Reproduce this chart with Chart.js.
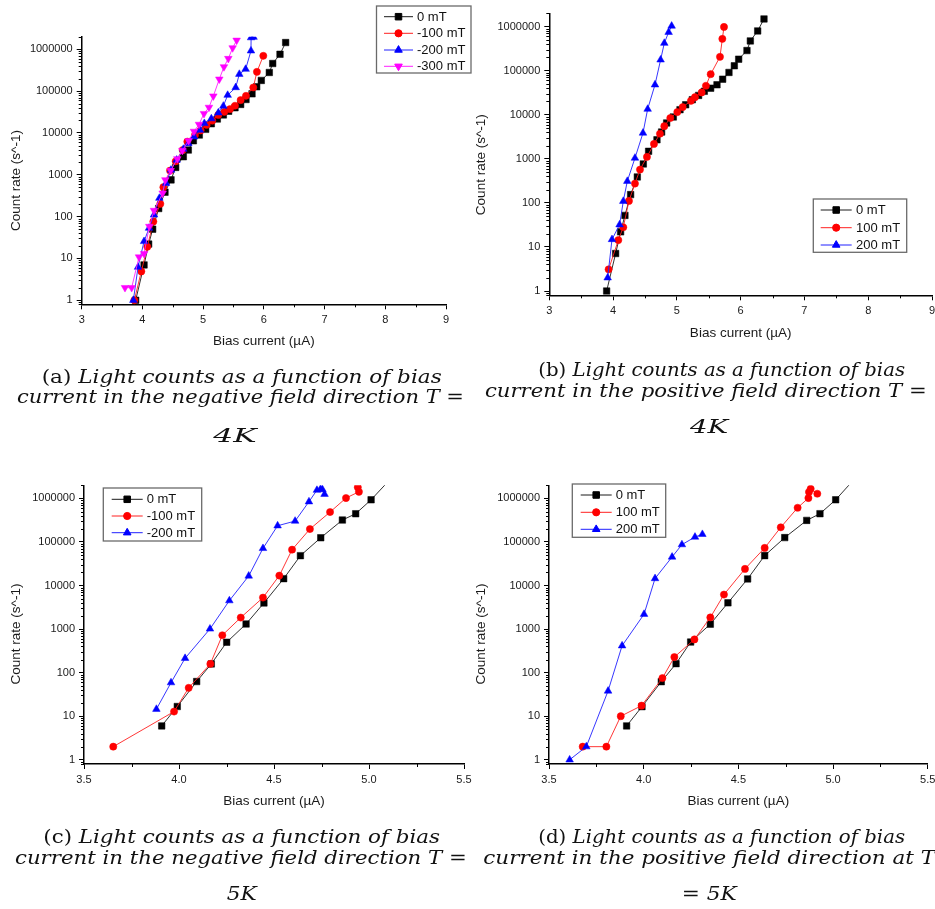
<!DOCTYPE html>
<html><head><meta charset="utf-8">
<script src="https://cdn.jsdelivr.net/npm/chart.js@4.4.0/dist/chart.umd.min.js"></script>
<style>
html,body{margin:0;padding:0;background:#fff;}
body{width:935px;height:909px;position:relative;overflow:hidden;}
canvas{position:absolute;}
svg.cap{position:absolute;left:0;top:0;}
svg.cap text{font-family:"DejaVu Serif",serif;font-style:italic;font-size:18px;fill:#111;}
svg.cap tspan.up{font-style:normal;}
</style></head><body>
<canvas id="cA" width="476" height="352" style="left:0;top:0"></canvas>
<canvas id="cB" width="470" height="352" style="left:470px;top:0"></canvas>
<canvas id="cC" width="476" height="360" style="left:0;top:455px"></canvas>
<canvas id="cD" width="470" height="360" style="left:470px;top:455px"></canvas>
<svg class="cap" width="935" height="909">
  <text x="41.7" y="383.3" textLength="400" lengthAdjust="spacingAndGlyphs"><tspan class="up">(a) </tspan>Light counts as a function of bias</text>
  <text x="17" y="403.3" textLength="447" lengthAdjust="spacingAndGlyphs">current in the negative field direction T =</text>
  <text x="213.3" y="441.7" textLength="43.4" lengthAdjust="spacingAndGlyphs">4K</text>
  <text x="538.3" y="376" textLength="366.7" lengthAdjust="spacingAndGlyphs"><tspan class="up">(b) </tspan>Light counts as a function of bias</text>
  <text x="485" y="396.7" textLength="441.7" lengthAdjust="spacingAndGlyphs">current in the positive field direction T =</text>
  <text x="690" y="433.3" textLength="38.3" lengthAdjust="spacingAndGlyphs">4K</text>
  <text x="43.3" y="843.3" textLength="396.7" lengthAdjust="spacingAndGlyphs"><tspan class="up">(c) </tspan>Light counts as a function of bias</text>
  <text x="15" y="864.3" textLength="451.7" lengthAdjust="spacingAndGlyphs">current in the negative field direction T =</text>
  <text x="226.7" y="900" textLength="30" lengthAdjust="spacingAndGlyphs">5K</text>
  <text x="538.3" y="843.3" textLength="366.7" lengthAdjust="spacingAndGlyphs"><tspan class="up">(d) </tspan>Light counts as a function of bias</text>
  <text x="483.3" y="864.3" textLength="451.7" lengthAdjust="spacingAndGlyphs">current in the positive field direction at T</text>
  <text x="681.7" y="900" textLength="55" lengthAdjust="spacingAndGlyphs">= 5K</text>
</svg>
<script>
// ---------------- DATA ----------------
const xTicks4K = [3, 4, 5, 6, 7, 8, 9];
const xTicks5K = [3.5, 4.0, 4.5, 5.0, 5.5];
const yTicks = [1, 10, 100, 1000, 10000, 100000, 1000000];

// (a) negative field, T = 4K
const a0mT_x = [3.889, 4.027, 4.103, 4.169, 4.268, 4.372, 4.471, 4.548, 4.674, 4.756, 4.839, 4.937, 5.042, 5.135, 5.234, 5.333, 5.42, 5.525, 5.618, 5.706, 5.805, 5.882, 5.958, 6.09, 6.146, 6.266, 6.359];
const a0mT_y = [1, 7, 22, 50, 156, 383, 755, 1500, 2700, 3900, 6500, 8900, 12200, 16600, 21500, 27000, 33000, 40000, 48000, 63000, 86000, 127000, 180000, 279000, 457000, 760000, 1450000];
const aM100_x = [3.867, 3.982, 4.081, 4.18, 4.295, 4.345, 4.455, 4.548, 4.663, 4.74, 4.866, 4.959, 5.058, 5.151, 5.25, 5.349, 5.442, 5.525, 5.618, 5.706, 5.826, 5.886, 5.991];
const aM100_y = [1, 4.9, 19, 76, 202, 505, 1260, 2100, 3900, 6200, 8900, 11500, 15500, 19600, 27000, 32000, 37000, 44700, 61000, 77000, 122000, 289000, 697000];
const aM200_x = [3.851, 3.928, 4.027, 4.109, 4.191, 4.279, 4.389, 4.471, 4.564, 4.674, 4.756, 4.85, 4.948, 5.02, 5.135, 5.25, 5.333, 5.404, 5.536, 5.596, 5.7, 5.788, 5.79, 5.83];
const aM200_y = [1, 6.2, 25.5, 53, 110, 276, 628, 1300, 2260, 4100, 5600, 8100, 11700, 17000, 22000, 30400, 44000, 80000, 122000, 254000, 335000, 920000, 1900000, 1950000];
const aM300_x = [3.713, 3.823, 3.944, 4.027, 4.114, 4.191, 4.334, 4.378, 4.465, 4.575, 4.658, 4.762, 4.85, 4.932, 5.014, 5.096, 5.168, 5.266, 5.343, 5.415, 5.486, 5.552];
const aM300_y = [2, 2, 10.8, 13, 58, 140, 363, 755, 1260, 2400, 3800, 6500, 10900, 16000, 29000, 40800, 76000, 193000, 380000, 600000, 1080000, 1640000];

// (b) positive field, T = 4K
const b0mT_x = [3.899, 4.04, 4.118, 4.186, 4.275, 4.38, 4.474, 4.557, 4.688, 4.761, 4.84, 4.944, 5.049, 5.138, 5.242, 5.341, 5.43, 5.53, 5.629, 5.718, 5.817, 5.901, 5.969, 6.099, 6.152, 6.267, 6.366];
const b0mT_y = [1, 7.1, 22, 52, 154, 388, 764, 1480, 2700, 4050, 6500, 8900, 13000, 16800, 21900, 27400, 34000, 40000, 47800, 64000, 91000, 129000, 182000, 286000, 473000, 797000, 1490000];
const bP100_x = [3.93, 4.082, 4.16, 4.249, 4.343, 4.422, 4.531, 4.641, 4.735, 4.803, 4.897, 5.007, 5.091, 5.221, 5.284, 5.389, 5.456, 5.53, 5.676, 5.713, 5.739];
const bP100_y = [3.1, 14.3, 28, 111, 274, 569, 1100, 2170, 3700, 5500, 8400, 11500, 14900, 20700, 25000, 32000, 45400, 83000, 206000, 526000, 980000];
const bP200_x = [3.915, 3.983, 4.102, 4.16, 4.223, 4.343, 4.469, 4.542, 4.657, 4.745, 4.803, 4.871, 4.918];
const bP200_y = [2, 14.8, 32, 109, 310, 1040, 3850, 13400, 47800, 176000, 420000, 744000, 1030000];

// (c) negative field, T = 5K
const c0mT_x = [3.909, 3.991, 4.093, 4.17, 4.251, 4.353, 4.447, 4.551, 4.639, 4.746, 4.86, 4.93, 5.011, 5.11];
const c0mT_y = [6, 16.7, 62.5, 159, 499, 1310, 3980, 14400, 48500, 125000, 319000, 445000, 930000, 2700000];
const cM100_x = [3.654, 3.974, 4.051, 4.165, 4.228, 4.325, 4.442, 4.528, 4.595, 4.689, 4.795, 4.879, 4.947, 4.941];
const cM100_y = [2, 12.8, 44.8, 159, 722, 1840, 5280, 16900, 66500, 198000, 486000, 1020000, 1420000, 1800000];
const cM200_x = [3.881, 3.958, 4.032, 4.163, 4.265, 4.367, 4.442, 4.519, 4.611, 4.684, 4.726, 4.745, 4.755, 4.766];
const cM200_y = [14.5, 59, 214, 1010, 4500, 16600, 71400, 236000, 302000, 840000, 1550000, 1650000, 1600000, 1250000];

// (d) positive field, T = 5K
const d0mT_x = [3.91, 3.991, 4.093, 4.171, 4.248, 4.352, 4.445, 4.549, 4.639, 4.745, 4.861, 4.931, 5.014, 5.11];
const d0mT_y = [6, 16.6, 62, 161, 504, 1300, 4000, 14200, 48600, 126000, 313000, 446000, 930000, 2700000];
const dP100_x = [3.678, 3.803, 3.879, 3.989, 4.099, 4.162, 4.268, 4.352, 4.424, 4.535, 4.639, 4.724, 4.813, 4.87, 4.873, 4.882, 4.917];
const dP100_y = [2, 2, 10, 17.5, 75, 228, 580, 1850, 6200, 24100, 73000, 217000, 610000, 1020000, 1400000, 1660000, 1280000];
const dP200_x = [3.609, 3.697, 3.812, 3.886, 4.002, 4.06, 4.15, 4.202, 4.271, 4.31];
const dP200_y = [1, 2, 38, 415, 2200, 14500, 45300, 87000, 130000, 150000];

const labelsA = ['0 mT', '-100 mT', '-200 mT', '-300 mT'];
const labelsB = ['0 mT', '100 mT', '200 mT'];
const labelsC = ['0 mT', '-100 mT', '-200 mT'];
const labelsD = ['0 mT', '100 mT', '200 mT'];

const xTitle = 'Bias current (\u00B5A)';
const yTitle = 'Count rate (s^-1)';

// ---------------- STYLE ----------------
const STYLES = [
  {line: '#1a1a1a', fill: '#000000', shape: 'rect', radius: 4.6, rot: 0},
  {line: '#ff2020', fill: '#ff0000', shape: 'circle', radius: 3.6, rot: 0},
  {line: '#2020ff', fill: '#0000ff', shape: 'triangle', radius: 4.4, rot: 0},
  {line: '#ff20ff', fill: '#ff00ff', shape: 'triangle', radius: 4.4, rot: 180}
];
const SANS = '"Liberation Sans", Arial, sans-serif';

function zip(xs, ys) { return xs.map((x, i) => ({x: x, y: ys[i]})); }

function originPlugin(p) {
  return {
    id: 'originDeco',
    afterDraw(chart) {
      const ctx = chart.ctx, ca = chart.chartArea;
      const xs = chart.scales.x, ys = chart.scales.y;
      ctx.save();
      // minor ticks x
      ctx.strokeStyle = '#000'; ctx.lineWidth = 1;
      for (let v = p.xMin; v <= p.xMax + 1e-9; v += p.xMinor) {
        if (p.xTicks.some(t => Math.abs(t - v) < 1e-6)) continue;
        const px = Math.round(xs.getPixelForValue(v)) + 0.5;
        ctx.beginPath(); ctx.moveTo(px, ca.bottom); ctx.lineTo(px, ca.bottom + 3); ctx.stroke();
      }
      // minor ticks y (log)
      for (let d = -1; d <= 6; d++) {
        for (let m = 2; m <= 9; m++) {
          const v = m * Math.pow(10, d);
          if (v < p.yMin || v > p.yMax) continue;
          const py = Math.round(ys.getPixelForValue(v)) + 0.5;
          ctx.beginPath(); ctx.moveTo(ca.left - 3, py); ctx.lineTo(ca.left, py); ctx.stroke();
        }
      }
      // axis titles
      ctx.fillStyle = '#1a1a1a';
      ctx.font = '13.5px ' + SANS;
      ctx.textAlign = 'center'; ctx.textBaseline = 'alphabetic';
      ctx.fillText(xTitle, (ca.left + ca.right) / 2, p.xTitleBase);
      ctx.save();
      ctx.translate(p.yTitle[0], p.yTitle[1]);
      ctx.rotate(-Math.PI / 2);
      ctx.textBaseline = 'middle';
      ctx.fillText(yTitle, 0, 0);
      ctx.restore();
      // legend
      const L = p.legend;
      ctx.strokeStyle = '#6a6a6a'; ctx.lineWidth = 1.3;
      ctx.strokeRect(L.box[0], L.box[1], L.box[2] - L.box[0], L.box[3] - L.box[1]);
      ctx.font = '13px ' + SANS;
      ctx.textAlign = 'left'; ctx.textBaseline = 'middle';
      p.labels.forEach((lab, i) => {
        const st = STYLES[i], y = L.rows[i];
        ctx.strokeStyle = st.line; ctx.lineWidth = 1;
        ctx.beginPath(); ctx.moveTo(L.s0, y); ctx.lineTo(L.s1, y); ctx.stroke();
        ctx.fillStyle = st.fill; ctx.strokeStyle = st.fill;
        Chart.helpers.drawPoint(ctx, {pointStyle: st.shape, radius: st.radius, rotation: st.rot, borderWidth: 0.5}, (L.s0 + L.s1) / 2, y);
        ctx.fillStyle = '#111';
        ctx.fillText(lab, L.tx, y + 0.5);
      });
      ctx.restore();
    }
  };
}

function buildPanel(p) {
  const canvas = document.getElementById(p.id);
  const W = canvas.width, H = canvas.height;
  const n = p.series.length;
  const datasets = p.series.map((s, i) => {
    const st = STYLES[i];
    return {
      label: p.labels[i], data: zip(s[0], s[1]), showLine: true,
      borderColor: st.line, borderWidth: 0.9,
      pointStyle: st.shape, pointRotation: st.rot, pointRadius: st.radius,
      pointBackgroundColor: st.fill, pointBorderColor: st.fill, pointBorderWidth: 0.5,
      pointHoverRadius: st.radius, tension: 0, order: n - i,
      clip: {left: 12, top: 0, right: 12, bottom: 12}
    };
  });
  const tickFont = {family: SANS, size: 11};
  new Chart(canvas, {
    type: 'scatter',
    data: {datasets: datasets},
    options: {
      responsive: false, animation: false, events: [],
      layout: {padding: {left: 0, top: p.area.top, right: W - p.area.right, bottom: 0}},
      plugins: {legend: {display: false}, tooltip: {enabled: false}},
      scales: {
        x: {
          type: 'linear', min: p.xMin, max: p.xMax,
          afterBuildTicks: s => { s.ticks = p.xTicks.map(v => ({value: v})); },
          afterFit: s => { s.height = H - p.area.bottom; },
          ticks: {font: tickFont, color: '#1a1a1a', padding: 4, autoSkip: false, maxRotation: 0,
                  callback: v => p.xFmt(v)},
          grid: {display: true, drawOnChartArea: false, tickLength: 5, tickColor: '#000', tickWidth: 1},
          border: {display: true, color: '#000', width: 1.5}
        },
        y: {
          type: 'logarithmic', min: p.yMin, max: p.yMax,
          afterBuildTicks: s => { s.ticks = yTicks.map(v => ({value: v})); },
          afterFit: s => { s.width = p.area.left; },
          ticks: {font: tickFont, color: '#1a1a1a', padding: 4, autoSkip: false,
                  callback: v => String(v)},
          grid: {display: true, drawOnChartArea: false, tickLength: 5, tickColor: '#000', tickWidth: 1},
          border: {display: true, color: '#000', width: 1.5}
        }
      }
    },
    plugins: [originPlugin(p)]
  });
}

const fmtInt = v => String(v);
const fmt1 = v => v.toFixed(1);

buildPanel({
  id: 'cA', area: {left: 81.7, top: 36.7, right: 446, bottom: 304.3},
  xMin: 3, xMax: 9, xTicks: xTicks4K, xMinor: 0.5, xFmt: fmtInt, yMin: 0.8, yMax: 2e6,
  series: [[a0mT_x, a0mT_y], [aM100_x, aM100_y], [aM200_x, aM200_y], [aM300_x, aM300_y]],
  labels: labelsA, xTitleBase: 345, yTitle: [16.7, 180.5],
  legend: {box: [376.5, 6, 471, 73], rows: [16.7, 33.3, 50, 66.3], s0: 384, s1: 413, tx: 417}
});
buildPanel({
  id: 'cB', area: {left: 79.3, top: 13.3, right: 462, bottom: 295.3},
  xMin: 3, xMax: 9, xTicks: xTicks4K, xMinor: 0.5, xFmt: fmtInt, yMin: 0.8, yMax: 2e6,
  series: [[b0mT_x, b0mT_y], [bP100_x, bP100_y], [bP200_x, bP200_y]],
  labels: labelsB, xTitleBase: 337.3, yTitle: [11.7, 164.7],
  legend: {box: [343.3, 199, 436.7, 252.3], rows: [210, 227.7, 245], s0: 350.7, s1: 381.7, tx: 386}
});
buildPanel({
  id: 'cC', area: {left: 84, top: 30.3, right: 464, bottom: 309},
  xMin: 3.5, xMax: 5.5, xTicks: xTicks5K, xMinor: 0.25, xFmt: fmt1, yMin: 0.8, yMax: 2e6,
  series: [[c0mT_x, c0mT_y], [cM100_x, cM100_y], [cM200_x, cM200_y]],
  labels: labelsC, xTitleBase: 350, yTitle: [16.7, 179],
  legend: {box: [103.3, 33, 201.7, 86], rows: [44.3, 61, 77.7], s0: 111.7, s1: 142.7, tx: 146.7}
});
buildPanel({
  id: 'cD', area: {left: 79, top: 30.3, right: 457.7, bottom: 309},
  xMin: 3.5, xMax: 5.5, xTicks: xTicks5K, xMinor: 0.25, xFmt: fmt1, yMin: 0.8, yMax: 2e6,
  series: [[d0mT_x, d0mT_y], [dP100_x, dP100_y], [dP200_x, dP200_y]],
  labels: labelsD, xTitleBase: 350, yTitle: [11.7, 179],
  legend: {box: [102.3, 29, 195.7, 82.3], rows: [40, 57.3, 74.3], s0: 110.7, s1: 141.7, tx: 145.7}
});
</script>
</body></html>
